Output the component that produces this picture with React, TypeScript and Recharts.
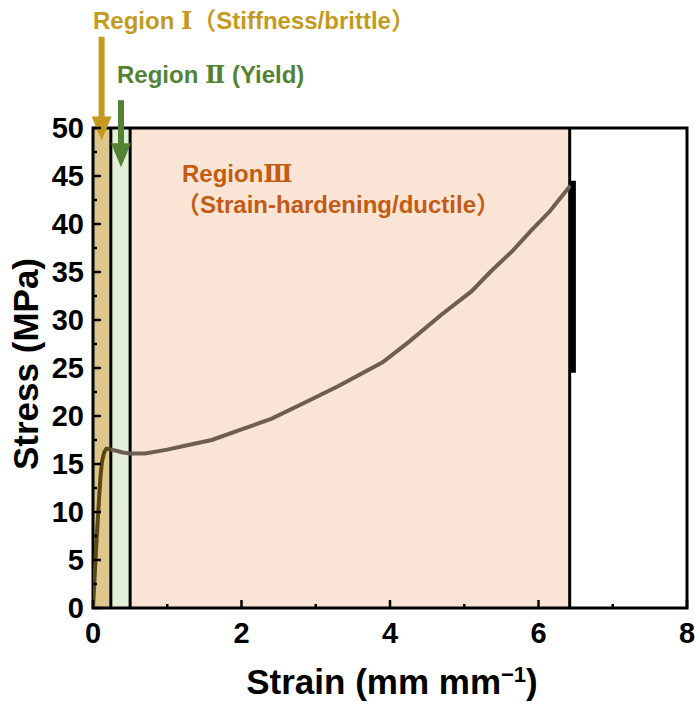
import { ComposedChart, Line, XAxis, YAxis, ReferenceArea, ReferenceLine } from 'recharts';

const FONT = '"Liberation Sans", Arial, "Noto Sans CJK SC", sans-serif';
const CJK = '"Noto Sans CJK SC", "Liberation Sans", sans-serif';
const NUM = '"DejaVu Serif", "Liberation Serif", serif';

// tensile curve, region I (elastic rise up to the yield peak)
const strainElastic = [0, 0.02, 0.04, 0.06, 0.08, 0.1, 0.12, 0.15, 0.18, 0.21, 0.24];
const stressElastic = [0, 3.0, 6.0, 8.6, 11.2, 13.6, 15.2, 16.2, 16.6, 16.6, 16.5];

// region II + III (yield drop, then strain hardening)
const strainPlastic = [0.24, 0.3, 0.4, 0.5, 0.7, 1.0, 1.3, 1.6, 2.0, 2.4, 2.8, 3.3, 3.9, 4.25, 4.7, 5.1, 5.35, 5.65, 5.9, 6.15, 6.43];
const stressPlastic = [16.5, 16.4, 16.2, 16.1, 16.1, 16.5, 17.0, 17.5, 18.6, 19.7, 21.2, 23.1, 25.6, 27.7, 30.6, 33.0, 35.0, 37.2, 39.3, 41.3, 44.0];

// break marker at the end of the test
const breakStrain = [6.47, 6.47];
const breakStress = [44.5, 24.5];

// region limits along the strain axis
const regionEdges = [0, 0.24, 0.5, 6.42];
const regionColors = ['#DEC78C', '#E2EFD9', '#F9E4D6'];

const xTicks = [0, 1, 2, 3, 4, 5, 6, 7, 8];
const yTicks = [0, 2.5, 5, 7.5, 10, 12.5, 15, 17.5, 20, 22.5, 25, 27.5, 30, 32.5, 35, 37.5, 40, 42.5, 45, 47.5, 50];

// arrow positions (strain, stress from -> to)
const arrowGold = { x: 0.116, from: 59.5, to: 48.7 };
const arrowGreen = { x: 0.377, from: 52.9, to: 45.9 };

const toPoints = (xs: number[], ys: number[]) => xs.map((x, i) => ({ x, y: ys[i] }));

const YTick = (props: any) => {
  const { x, y, payload } = props;
  const v = payload.value;
  const major = v % 5 === 0;
  return (
    <g>
      <line x1={x} x2={x + (major ? 8 : 4)} y1={y} y2={y} stroke="#000" strokeWidth={2.5} />
      {major && (
        <text x={x - 9} y={y} dy="0.36em" textAnchor="end" fontFamily={FONT} fontWeight="bold" fontSize={29} fill="#000">
          {v}
        </text>
      )}
    </g>
  );
};

const XTick = (props: any) => {
  const { x, y, payload } = props;
  const v = payload.value;
  const major = v % 2 === 0;
  return (
    <g>
      <line x1={x} x2={x} y1={y} y2={y - (major ? 8 : 4)} stroke="#000" strokeWidth={2.5} />
      {major && (
        <text x={x} y={y + 35} textAnchor="middle" fontFamily={FONT} fontWeight="bold" fontSize={29} fill="#000">
          {v}
        </text>
      )}
    </g>
  );
};

const makeArrow = (color: string) => (props: any) => {
  const { x1, y1, x2, y2 } = props;
  const head = 24;
  const half = 10;
  return (
    <g>
      <line x1={x1} y1={y1} x2={x2} y2={y2 - head + 2} stroke={color} strokeWidth={6} />
      <polygon points={`${x2 - half},${y2 - head} ${x2 + half},${y2 - head} ${x2},${y2}`} fill={color} />
    </g>
  );
};

export default function App() {
  const W = 695;
  const H = 702;
  return (
    <div style={{ position: 'absolute', left: 0, top: 0, width: W, height: H, background: '#fff' }}>
      <ComposedChart width={W} height={H} margin={{ top: 128, right: 8, bottom: 54, left: 33 }}>
        <XAxis
          type="number"
          dataKey="x"
          domain={[0, 8]}
          ticks={xTicks}
          interval={0}
          allowDataOverflow
          axisLine={false}
          tickLine={false}
          tickSize={0}
          tickMargin={0}
          height={40}
          tick={<XTick />}
        />
        <YAxis
          type="number"
          dataKey="y"
          domain={[0, 50]}
          ticks={yTicks}
          interval={0}
          allowDataOverflow
          axisLine={false}
          tickLine={false}
          tickSize={0}
          tickMargin={0}
          width={60}
          tick={<YTick />}
        />
        {regionColors.map((c, i) => (
          <ReferenceArea
            key={`region-${i}`}
            x1={regionEdges[i]}
            x2={regionEdges[i + 1]}
            y1={0}
            y2={50}
            fill={c}
            fillOpacity={1}
            stroke="none"
          />
        ))}
        {regionEdges.slice(1).map((e) => (
          <ReferenceLine key={`edge-${e}`} x={e} stroke="#000" strokeWidth={3} />
        ))}
        <Line
          data={toPoints(strainElastic, stressElastic)}
          dataKey="y"
          type="linear"
          stroke="#5A4812"
          strokeWidth={4}
          dot={false}
          isAnimationActive={false}
        />
        <Line
          data={toPoints(strainPlastic, stressPlastic)}
          dataKey="y"
          type="linear"
          stroke="#6E5E52"
          strokeWidth={4}
          dot={false}
          isAnimationActive={false}
        />
        <Line
          data={toPoints(breakStrain, breakStress)}
          dataKey="y"
          type="linear"
          stroke="#000"
          strokeWidth={5}
          dot={false}
          isAnimationActive={false}
        />
        <ReferenceArea x1={0} x2={8} y1={0} y2={50} fill="none" stroke="#000" strokeWidth={3} />
        <ReferenceLine
          segment={[{ x: arrowGold.x, y: arrowGold.from }, { x: arrowGold.x, y: arrowGold.to }]}
          ifOverflow="visible"
          shape={makeArrow('#C49A1E')}
        />
        <ReferenceLine
          segment={[{ x: arrowGreen.x, y: arrowGreen.from }, { x: arrowGreen.x, y: arrowGreen.to }]}
          ifOverflow="visible"
          shape={makeArrow('#548235')}
        />
      </ComposedChart>
      <svg width={W} height={H} style={{ position: 'absolute', left: 0, top: 0, pointerEvents: 'none' }}>
        <g fontFamily={FONT} fontWeight="bold">
          <text x={93} y={29} fontSize={24} fill="#C49A1E">
            Region <tspan fontFamily={NUM}>Ⅰ</tspan><tspan fontFamily={CJK}>（</tspan>Stiffness/brittle<tspan fontFamily={CJK}>）</tspan>
          </text>
          <text x={117} y={83} fontSize={24} fill="#548235">
            Region <tspan fontFamily={NUM}>Ⅱ</tspan> (Yield)
          </text>
          <text x={182} y={182} fontSize={24} fill="#C55A11">
            Region<tspan fontFamily={NUM}>Ⅲ</tspan>
          </text>
          <text x={176} y={213} fontSize={24} fill="#C55A11">
            <tspan fontFamily={CJK}>（</tspan>Strain-hardening/ductile<tspan fontFamily={CJK}>）</tspan>
          </text>
          <text x={392} y={694} fontSize={35} textAnchor="middle" fill="#000">
            Strain (mm mm<tspan fontSize={22} dy={-12}>−1</tspan><tspan dy={12}>)</tspan>
          </text>
          <text x={38} y={364} fontSize={35} textAnchor="middle" fill="#000" transform="rotate(-90 38 364)">
            Stress (MPa)
          </text>
        </g>
      </svg>
    </div>
  );
}
